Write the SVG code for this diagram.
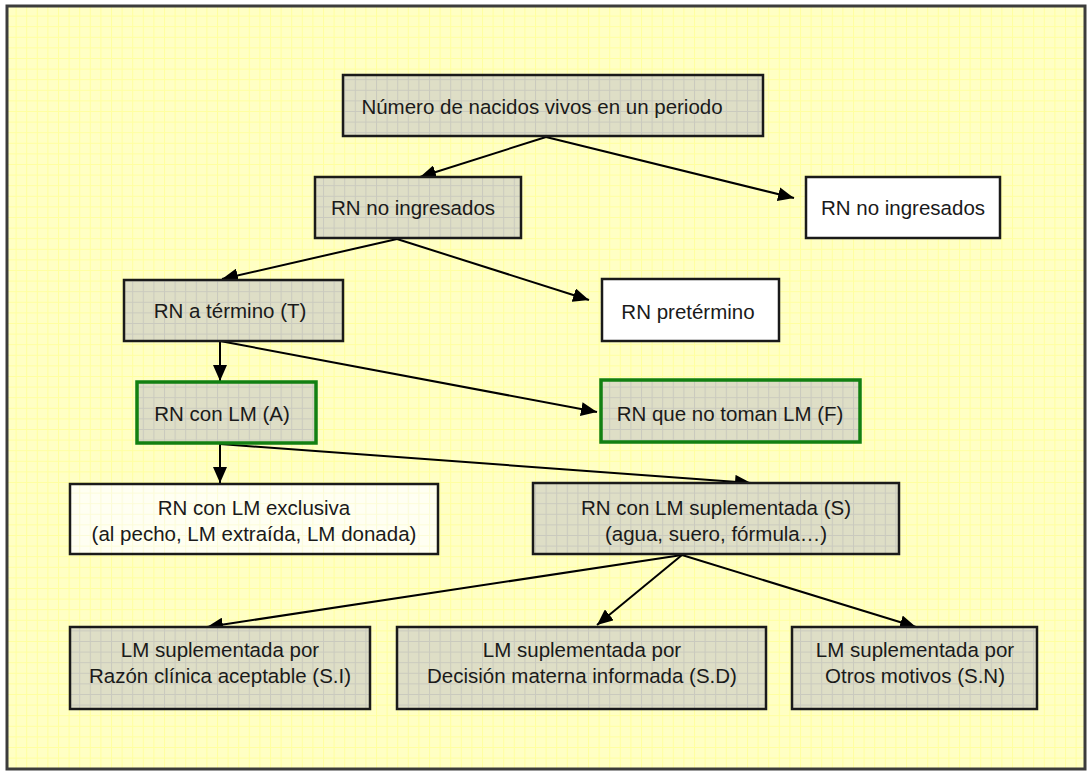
<svg xmlns="http://www.w3.org/2000/svg" width="1092" height="775" viewBox="0 0 1092 775">
<style>
.t{font-family:"Liberation Sans",Arial,sans-serif;font-size:20.5px;fill:#1a1a1a;text-anchor:middle}
.box{stroke:#1a1a1a;stroke-width:2.5}
.grey{fill:url(#gridG)}
.white{fill:#ffffff}
.cream{fill:url(#gridC)}
.green{stroke:#128012;stroke-width:3.5}
.c{stroke:#000;stroke-width:2;fill:none;marker-end:url(#arr)}
</style>
<defs>
<pattern id="gridY" patternUnits="userSpaceOnUse" width="10.6" height="10.6" x="5" y="5">
<rect width="10.6" height="10.6" fill="#ffffc4"/>
<path d="M0 0.5H10.6M0.5 0V10.6" stroke="#ffffa0" stroke-width="1"/>
</pattern>
<pattern id="gridG" patternUnits="userSpaceOnUse" width="10.6" height="10.6" x="5" y="5">
<rect width="10.6" height="10.6" fill="#dedec6"/>
<path d="M0 0.5H10.6M0.5 0V10.6" stroke="#cacabe" stroke-width="1"/>
</pattern>
<pattern id="gridC" patternUnits="userSpaceOnUse" width="10.6" height="10.6" x="5" y="5">
<rect width="10.6" height="10.6" fill="#fffff2"/>
<path d="M0 0.5H10.6M0.5 0V10.6" stroke="#fcfcd8" stroke-width="1"/>
</pattern>
<marker id="arr" markerUnits="userSpaceOnUse" markerWidth="18" markerHeight="14" refX="16" refY="7" orient="auto">
<path d="M0 0L16 7L0 14z" fill="#000"/>
</marker>
</defs>
<rect x="0" y="0" width="1092" height="775" fill="#ffffff"/>
<rect x="7" y="6" width="1078" height="763" fill="url(#gridY)" stroke="#3c3c3c" stroke-width="3"/>

<g id="connectors">
<line class="c" x1="546" y1="137" x2="420" y2="177"/>
<line class="c" x1="546" y1="137" x2="794" y2="198"/>
<line class="c" x1="397" y1="239" x2="222" y2="279"/>
<line class="c" x1="397" y1="239" x2="589" y2="300"/>
<line class="c" x1="220" y1="341" x2="220" y2="381"/>
<line class="c" x1="220" y1="341" x2="597" y2="412"/>
<line class="c" x1="220" y1="444" x2="220" y2="483"/>
<line class="c" x1="220" y1="444" x2="751" y2="483"/>
<line class="c" x1="682" y1="555" x2="207" y2="627"/>
<line class="c" x1="682" y1="555" x2="597" y2="625"/>
<line class="c" x1="682" y1="555" x2="916" y2="627"/>
</g>

<g id="n1">
<rect class="box grey" x="343" y="75" width="420" height="61"/>
<text class="t" x="542" y="114">Número de nacidos vivos en un periodo</text>
</g>
<g id="n2">
<rect class="box grey" x="315" y="177" width="206" height="61"/>
<text class="t" x="413" y="215">RN no ingresados</text>
</g>
<g id="n3">
<rect class="box white" x="806" y="177" width="194" height="61"/>
<text class="t" x="903" y="215">RN no ingresados</text>
</g>
<g id="n4">
<rect class="box grey" x="124" y="280" width="219" height="61"/>
<text class="t" x="230" y="318">RN a término (T)</text>
</g>
<g id="n5">
<rect class="box white" x="602" y="279" width="177" height="62"/>
<text class="t" x="688" y="319">RN pretérmino</text>
</g>
<g id="n6">
<rect class="box grey green" x="137" y="382" width="179" height="61"/>
<text class="t" x="222" y="421">RN con LM (A)</text>
</g>
<g id="n7">
<rect class="box grey green" x="601" y="380" width="259" height="62"/>
<text class="t" x="730" y="421">RN que no toman LM (F)</text>
</g>
<g id="n8">
<rect class="box cream" x="70" y="484" width="368" height="70"/>
<text class="t" x="254" y="515">RN con LM exclusiva</text>
<text class="t" x="254" y="541">(al pecho, LM extraída, LM donada)</text>
</g>
<g id="n9">
<rect class="box grey" x="533" y="483" width="366" height="71"/>
<text class="t" x="716" y="515">RN con LM suplementada (S)</text>
<text class="t" x="716" y="541">(agua, suero, fórmula…)</text>
</g>
<g id="n10">
<rect class="box grey" x="70" y="627" width="300" height="82"/>
<text class="t" x="220" y="657">LM suplementada por</text>
<text class="t" x="220" y="683">Razón clínica aceptable (S.I)</text>
</g>
<g id="n11">
<rect class="box grey" x="397" y="627" width="369" height="82"/>
<text class="t" x="582" y="657">LM suplementada por</text>
<text class="t" x="582" y="683">Decisión materna informada (S.D)</text>
</g>
<g id="n12">
<rect class="box grey" x="792" y="627" width="245" height="82"/>
<text class="t" x="915" y="657">LM suplementada por</text>
<text class="t" x="915" y="683">Otros motivos (S.N)</text>
</g>
</svg>
